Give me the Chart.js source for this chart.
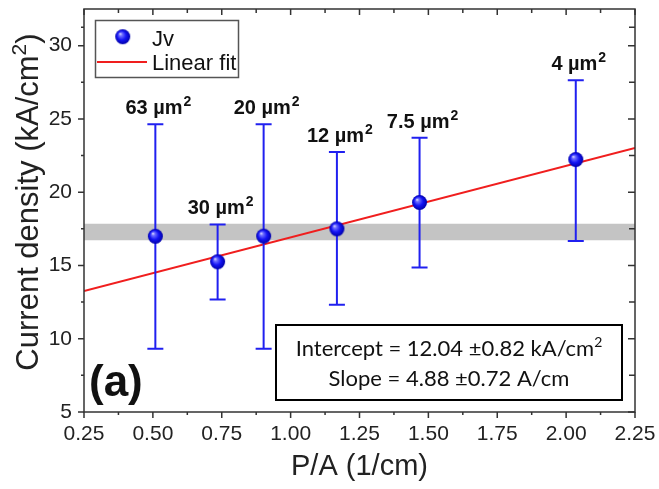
<!DOCTYPE html>
<html>
<head>
<meta charset="utf-8">
<script src="https://cdn.jsdelivr.net/npm/chart.js@4.4.0/dist/chart.umd.min.js"></script>
<style>
  html, body { margin: 0; padding: 0; background: #fff; }
  #wrap { width: 659px; height: 489px; }
</style>
</head>
<body>
<div id="wrap"><canvas id="jvChart" width="659" height="489"></canvas></div>
<script>
// P/A (1/cm) of each device and its current density (kA/cm2)
const perimeterOverArea = [0.509, 0.735, 0.902, 1.168, 1.468, 2.035];
const currentDensity = [16.99, 15.25, 17.0, 17.5, 19.3, 22.23];
const errTop = [24.64, 17.8, 24.64, 22.75, 23.72, 27.64];
const errBottom = [9.32, 12.68, 9.32, 12.32, 14.86, 16.67];
const deviceAreas = ["63", "30", "20", "12", "7.5", "4"];

// linear fit, end points
const fitX = [0.25, 2.25];
const fitY = [13.26, 23.02];

// grey band
const bandX = [0.25, 2.25];
const bandLow = 16.72;
const bandHigh = 17.84;

const xTicks = [0.25, 0.5, 0.75, 1.0, 1.25, 1.5, 1.75, 2.0, 2.25];
const yTicks = [5, 10, 15, 20, 25, 30];

const AXIS = "#333333";
const BLUE = "#2020f0";
const RED = "#f01e1e";

function makeBall(r) {
  const c = document.createElement("canvas");
  c.width = c.height = Math.ceil(r * 2 + 2);
  const g = c.getContext("2d");
  const cx = c.width / 2, cy = c.height / 2;
  const grad = g.createRadialGradient(cx - r * 0.35, cy - r * 0.4, 0, cx, cy, r);
  grad.addColorStop(0, "#eeeeff");
  grad.addColorStop(0.22, "#7070ff");
  grad.addColorStop(0.6, "#1414f4");
  grad.addColorStop(1, "#0000a8");
  g.fillStyle = grad;
  g.beginPath();
  g.arc(cx, cy, r, 0, Math.PI * 2);
  g.fill();
  return c;
}
const ball = makeBall(7.5);

// draw text pieces (base + superscript) in a row
function drawRich(ctx, pieces, x, y, align) {
  let total = 0;
  pieces.forEach((p) => {
    ctx.font = p.font;
    p.w = ctx.measureText(p.text).width + (p.gap || 0);
    total += p.w;
  });
  let cx = x;
  if (align === "center") cx = x - total / 2;
  if (align === "right") cx = x - total;
  ctx.textAlign = "left";
  ctx.textBaseline = "alphabetic";
  pieces.forEach((p) => {
    ctx.font = p.font;
    ctx.fillText(p.text, cx + (p.gap || 0), y + (p.dy || 0));
    cx += p.w;
  });
}

const decor = {
  id: "decor",
  beforeDatasetDraw(chart, args) {
    if (args.index !== 0) return;
    const ctx = chart.ctx;
    const xs = chart.scales.x, ys = chart.scales.y;
    ctx.save();
    ctx.strokeStyle = BLUE;
    ctx.lineWidth = 2;
    perimeterOverArea.forEach((v, i) => {
      const px = xs.getPixelForValue(v);
      const t = ys.getPixelForValue(errTop[i]);
      const b = ys.getPixelForValue(errBottom[i]);
      ctx.beginPath();
      ctx.moveTo(px, t); ctx.lineTo(px, b);
      ctx.moveTo(px - 8, t); ctx.lineTo(px + 8, t);
      ctx.moveTo(px - 8, b); ctx.lineTo(px + 8, b);
      ctx.stroke();
    });
    ctx.restore();
  },
  afterDraw(chart) {
    const ctx = chart.ctx;
    const a = chart.chartArea;
    const xs = chart.scales.x, ys = chart.scales.y;
    ctx.save();

    // frame
    ctx.strokeStyle = AXIS;
    ctx.lineWidth = 1.5;
    ctx.strokeRect(a.left, a.top, a.right - a.left, a.bottom - a.top);

    // ticks: out on bottom/left, in on top/right
    ctx.beginPath();
    for (let i = 0; i < xTicks.length; i++) {
      const p = xs.getPixelForValue(xTicks[i]);
      ctx.moveTo(p, a.bottom); ctx.lineTo(p, a.bottom + 6);
      ctx.moveTo(p, a.top); ctx.lineTo(p, a.top + 6);
      if (i < xTicks.length - 1) {
        const m = xs.getPixelForValue((xTicks[i] + xTicks[i + 1]) / 2);
        ctx.moveTo(m, a.bottom); ctx.lineTo(m, a.bottom + 3);
        ctx.moveTo(m, a.top); ctx.lineTo(m, a.top + 4);
      }
    }
    const yAll = yTicks.concat([32.5]);
    for (let i = 0; i < yTicks.length; i++) {
      const p = ys.getPixelForValue(yTicks[i]);
      ctx.moveTo(a.left, p); ctx.lineTo(a.left - 6, p);
      ctx.moveTo(a.right, p); ctx.lineTo(a.right - 7, p);
      const m = ys.getPixelForValue((yAll[i] + yAll[i + 1]) / 2);
      ctx.moveTo(a.left, m); ctx.lineTo(a.left - 3, m);
      ctx.moveTo(a.right, m); ctx.lineTo(a.right - 6, m);
    }
    ctx.stroke();

    // axis titles
    ctx.fillStyle = "#222";
    drawRich(ctx, [{ text: "P/A (1/cm)", font: "29px Arial" }], (a.left + a.right) / 2, 475, "center");
    ctx.save();
    ctx.translate(38, 202);
    ctx.rotate(-Math.PI / 2);
    drawRich(ctx, [
      { text: "Current density (kA/cm", font: "31px Arial" },
      { text: "2", font: "21px Arial", dy: -12 },
      { text: ")", font: "31px Arial" },
    ], 0, 0, "center");
    ctx.restore();

    // area labels above each bar
    ctx.fillStyle = "#111";
    perimeterOverArea.forEach((v, i) => {
      const px = xs.getPixelForValue(v);
      const t = ys.getPixelForValue(errTop[i]);
      drawRich(ctx, [
        { text: deviceAreas[i] + " \u00b5m", font: "bold 20px Arial" },
        { text: "2", font: "bold 14px Arial", dy: -8, gap: 1 },
      ], px + 3, t - 10, "center");
    });

    // legend
    ctx.strokeStyle = "#555";
    ctx.lineWidth = 1.5;
    ctx.strokeRect(95.5, 20.5, 143, 57);
    ctx.drawImage(ball, 122.7 - ball.width / 2, 36.7 - ball.height / 2);
    ctx.strokeStyle = RED;
    ctx.lineWidth = 2;
    ctx.beginPath();
    ctx.moveTo(97, 62); ctx.lineTo(147, 62);
    ctx.stroke();
    ctx.fillStyle = "#111";
    drawRich(ctx, [{ text: "Jv", font: "22px Arial" }], 152, 46, "left");
    drawRich(ctx, [{ text: "Linear fit", font: "22px Arial" }], 152, 70, "left");

    // (a)
    drawRich(ctx, [{ text: "(a)", font: "bold 44px Arial" }], 89, 396, "left");

    // fit result box
    ctx.fillStyle = "#fff";
    ctx.fillRect(276, 325, 346, 75);
    ctx.strokeStyle = "#000";
    ctx.lineWidth = 2;
    ctx.strokeRect(276, 325, 346, 75);
    ctx.fillStyle = "#111";
    drawRich(ctx, [
      { text: "Intercept = 12.04 \u00b10.82 kA/cm", font: "22px Lato" },
      { text: "2", font: "14px Lato", dy: -9 },
    ], 449, 356, "center");
    drawRich(ctx, [{ text: "Slope = 4.88 \u00b10.72 A/cm", font: "22px Lato" }], 449, 386, "center");

    ctx.restore();
  },
};

function noEdgePadding(s) {
  s.paddingTop = 0;
  s.paddingBottom = 0;
  s.paddingLeft = 0;
  s.paddingRight = 0;
}

new Chart(document.getElementById("jvChart"), {
  type: "scatter",
  data: {
    datasets: [
      {
        label: "Jv",
        data: perimeterOverArea.map((x, i) => ({ x: x, y: currentDensity[i] })),
        pointStyle: ball,
        pointRadius: 8,
        pointHoverRadius: 8,
      },
      {
        label: "Linear fit",
        data: fitX.map((x, i) => ({ x: x, y: fitY[i] })),
        showLine: true,
        borderColor: RED,
        borderWidth: 2,
        pointRadius: 0,
        fill: false,
      },
      {
        label: "band",
        data: bandX.map((x) => ({ x: x, y: bandHigh })),
        showLine: true,
        borderColor: "rgba(0,0,0,0)",
        borderWidth: 0,
        backgroundColor: "#c4c4c4",
        pointRadius: 0,
        fill: { value: bandLow },
      },
    ],
  },
  options: {
    responsive: false,
    animation: false,
    devicePixelRatio: 1,
    layout: { padding: { left: 0, right: 24, top: 5, bottom: 0 } },
    plugins: { legend: { display: false }, tooltip: { enabled: false } },
    scales: {
      x: {
        type: "linear",
        min: 0.25,
        max: 2.25,
        grid: { display: false, drawTicks: false },
        border: { display: false },
        afterBuildTicks: (s) => { s.ticks = xTicks.map((v) => ({ value: v })); },
        afterFit: (s) => { s.height = 77; noEdgePadding(s); },
        ticks: {
          padding: 10,
          color: "#222",
          font: { family: "Arial", size: 21 },
          maxRotation: 0,
          autoSkip: false,
          callback: (v) => Number(v).toFixed(2),
        },
      },
      y: {
        type: "linear",
        min: 5,
        max: 32.5,
        grid: { display: false, drawTicks: false },
        border: { display: false },
        afterBuildTicks: (s) => { s.ticks = yTicks.map((v) => ({ value: v })); },
        afterFit: (s) => { s.width = 84; noEdgePadding(s); },
        ticks: {
          padding: 12,
          color: "#222",
          font: { family: "Arial", size: 21 },
          autoSkip: false,
        },
      },
    },
  },
  plugins: [decor],
});
</script>
</body>
</html>
